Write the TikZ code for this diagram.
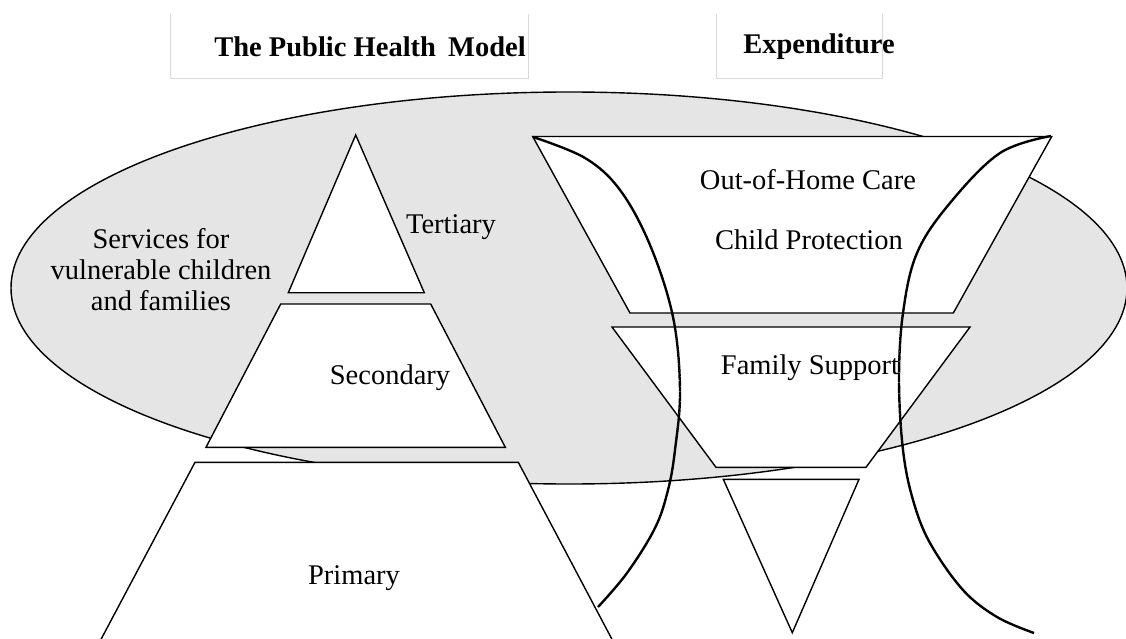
\documentclass[tikz,border=0pt]{standalone}
\usepackage{fontspec}
\setmainfont{Liberation Serif}
\begin{document}
\begin{tikzpicture}[x=1pt,y=-1pt,
  txt/.style={font=\fontsize{28.5}{31}\selectfont, inner sep=0pt, align=center},
  ttl/.style={font=\fontsize{28.5}{31}\selectfont\bfseries, inner sep=0pt},
  tier/.style={draw=black, line width=1.4pt, fill=white, line join=miter},
  framebox/.style={draw=black!15, line width=0.8pt},
  beads/.style={line width=2.4pt, dash pattern=on 1.8pt off 0.3pt, line cap=butt}]
\useasboundingbox (0,0) rectangle (1126,639);
\clip (0,0) rectangle (1126,639);
\fill[white] (0,0) rectangle (1126,639);

% heading frames
\draw[framebox] (170,14) -- (170,78) -- (528,78) -- (528,14);
\draw[framebox] (716,14) -- (716,78) -- (882,78) -- (882,14);
\node[ttl] (hmodel) at (370,47) {The Public Health\kern5pt\ Model};
\node[ttl] (hexp) at (819,47) {Expenditure};

% shaded region of services
\draw[line width=1.4pt, fill=black!10] (569,288) ellipse [x radius=558, y radius=196];
\node[txt] (svc) at (161,270) {Services for\\vulnerable children\\and families};

% public health pyramid
\draw[tier] (355.7,135) -- (424.3,292.7) -- (288.3,292.7) -- cycle;
\draw[tier] (280.7,304) -- (430.7,304) -- (505.3,447.3) -- (206,447.3) -- cycle;
\draw[tier] (195,462.3) -- (518.3,462.3) -- (624,662) -- (89,662) -- cycle;
\node[txt] (ter) at (451,227) {Tertiary};
\node[txt] (sec) at (390,378) {Secondary};
\node[txt] (pri) at (354,578) {Primary};

% expenditure funnel
\draw[tier] (532.7,136.5) -- (1051.7,136.5) -- (953.3,313) -- (630,313) -- cycle;
\draw[tier] (612,327) -- (970,327) -- (866,467.3) -- (716,467.3) -- cycle;
\draw[tier] (723.3,479.3) -- (859,479.3) -- (792.3,632.7) -- cycle;
\node[txt] (ooh) at (808,180) {Out-of-Home Care};
\node[txt] (cp) at (809,240) {Child Protection};
\node[txt] (fs) at (810,368) {Family Support};

% brackets round the funnel
\coordinate (la) at (533,137);
\coordinate (lb) at (598,607);
\coordinate (ra) at (1051,136);
\coordinate (rb) at (1034,633);
\draw[beads] plot[smooth, tension=0.6] coordinates {(la) (585,158) (620,190) (650,245) (673,317) (680,390) (675,450) (668,490) (655,528) (627,573) (lb)};
\draw[beads] plot[smooth, tension=0.6] coordinates {(ra) (1000,153) (950,203) (917,253) (903,313) (899,380) (903,450) (913,500) (930,543) (963,590) (997,617) (rb)};
\end{tikzpicture}
\end{document}
